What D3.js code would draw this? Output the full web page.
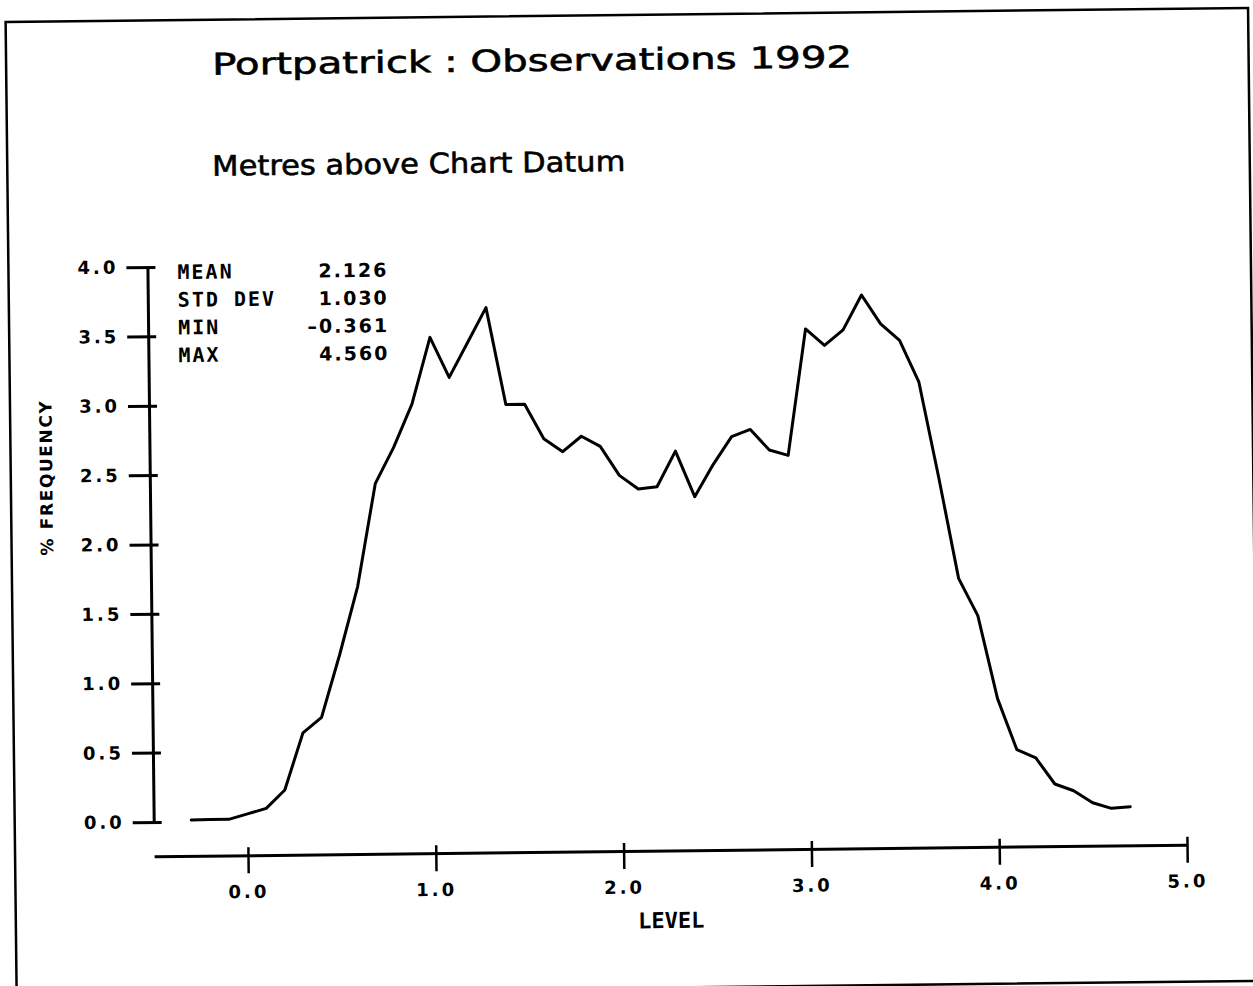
<!DOCTYPE html>
<html>
<head>
<meta charset="utf-8">
<title>Portpatrick : Observations 1992</title>
<script src="https://cdn.jsdelivr.net/npm/d3@7"></script>
<style>
  html, body { margin: 0; padding: 0; background: #fff; }
  svg { display: block; }
</style>
</head>
<body>
<svg id="chart" width="1253" height="986"></svg>
<script>
// Sea level distribution, 0.1 m bins: bin centre (m above Chart Datum) and % of observations
const levels = [
  -0.3, -0.2, -0.1, 0.0, 0.1, 0.2, 0.3, 0.4, 0.5, 0.6,
   0.7,  0.8,  0.9, 1.0, 1.1, 1.2, 1.3, 1.4, 1.5, 1.6,
   1.7,  1.8,  1.9, 2.0, 2.1, 2.2, 2.3, 2.4, 2.5, 2.6,
   2.7,  2.8,  2.9, 3.0, 3.1, 3.2, 3.3, 3.4, 3.5, 3.6,
   3.7,  3.8,  3.9, 4.0, 4.1, 4.2, 4.3, 4.4, 4.5, 4.6, 4.7
];
const frequency = [
  0.011, 0.013, 0.013, 0.051, 0.089, 0.22, 0.63, 0.74, 1.19, 1.68,
  2.42,  2.68,  2.99,  3.47,  3.18,  3.43, 3.68, 2.98, 2.98, 2.73,
  2.635, 2.745, 2.67,  2.46,  2.36,  2.375, 2.63, 2.30, 2.53, 2.73,
  2.78,  2.63,  2.59,  3.50,  3.38,  3.49, 3.74, 3.53, 3.41, 3.11,
  2.42,  1.69,  1.42,  0.82,  0.45,  0.39, 0.20, 0.15, 0.062, 0.02, 0.03
];
const xTicks = [0, 1, 2, 3, 4, 5];
const yTicks = [0, 0.5, 1, 1.5, 2, 2.5, 3, 3.5, 4];
const statLabels = ["MEAN", "STD DEV", "MIN", "MAX"];
const statValues = ["2.126", "1.030", "\u20130.361", "4.560"];

const titleText = "Portpatrick : Observations 1992";
const subtitleText = "Metres above Chart Datum";
const xTitle = "LEVEL";
const yTitle = "% FREQUENCY";

const svg = d3.select("#chart");
// whole sheet sits slightly skewed on the page
const sheet = svg.append("g").attr("transform", "rotate(-0.65 626 493)");

// sheet frame
sheet.append("rect")
  .attr("x", 11).attr("y", 15)
  .attr("width", 1242.5).attr("height", 973)
  .attr("fill", "none").attr("stroke", "#000").attr("stroke-width", 2.5);

const x = d3.scaleLinear().domain([-0.5, 5]).range([150, 1183]);
const y = d3.scaleLinear().domain([0, 4]).range([816.6, 261.6]);
const yAxisX = 150;
const xAxisY = 851;

const sansBold = sel => sel
  .attr("font-family", "'DejaVu Sans', sans-serif")
  .attr("font-weight", "bold")
  .attr("fill", "#000");
const monoBold = sel => sel
  .attr("font-family", "'DejaVu Sans Mono', monospace")
  .attr("font-weight", "bold")
  .attr("fill", "#000");

// titles (pen-plotted look: slightly thickened strokes)
sheet.append("text")
  .attr("x", 217).attr("y", 70)
  .attr("font-family", "'DejaVu Sans', sans-serif")
  .attr("font-size", 30)
  .attr("stroke", "#000").attr("stroke-width", 0.6)
  .attr("textLength", 640).attr("lengthAdjust", "spacingAndGlyphs")
  .text(titleText);

sheet.append("text")
  .attr("x", 216).attr("y", 171)
  .attr("font-family", "'DejaVu Sans', sans-serif")
  .attr("font-size", 28)
  .attr("stroke", "#000").attr("stroke-width", 0.6)
  .attr("textLength", 413).attr("lengthAdjust", "spacingAndGlyphs")
  .text(subtitleText);

// y axis
const gy = sheet.append("g")
  .attr("transform", `translate(${yAxisX},0)`)
  .call(d3.axisLeft(y).tickValues(yTicks).tickFormat(d3.format(".1f"))
    .tickSize(21).tickPadding(8).tickSizeOuter(0));
gy.select(".domain").attr("stroke", "#000").attr("stroke-width", 3);
gy.selectAll(".tick line").attr("x1", 8).attr("stroke", "#000").attr("stroke-width", 3);
gy.selectAll(".tick text").call(sansBold)
  .attr("font-size", 18).attr("letter-spacing", 3);

// x axis
const gx = sheet.append("g")
  .attr("transform", `translate(0,${xAxisY})`)
  .call(d3.axisBottom(x).tickValues(xTicks).tickFormat(d3.format(".1f"))
    .tickSize(18).tickPadding(12).tickSizeOuter(0));
gx.select(".domain").attr("stroke", "#000").attr("stroke-width", 3);
gx.selectAll(".tick line").attr("y1", -8).attr("stroke", "#000").attr("stroke-width", 2.5);
gx.selectAll(".tick text").call(sansBold)
  .attr("font-size", 18).attr("letter-spacing", 3);

// axis titles
sheet.append("text").call(monoBold)
  .attr("x", (x.range()[0] + x.range()[1]) / 2).attr("y", 928.5)
  .attr("text-anchor", "middle").attr("font-size", 22)
  .text(xTitle);

sheet.append("text").call(sansBold)
  .attr("transform", "translate(52.5,471) rotate(-90)")
  .attr("text-anchor", "middle").attr("font-size", 17).attr("letter-spacing", 1.6)
  .text(yTitle);

// summary statistics
const statY = i => 274 + i * 27.7;
sheet.append("g").call(monoBold)
  .attr("font-size", 20).attr("letter-spacing", 2)
  .selectAll("text").data(statLabels).join("text")
  .attr("x", 180).attr("y", (d, i) => statY(i))
  .text(d => d);
sheet.append("g").call(sansBold)
  .attr("font-size", 19).attr("letter-spacing", 2)
  .selectAll("text").data(statValues).join("text")
  .attr("x", 391).attr("y", (d, i) => statY(i))
  .attr("text-anchor", "end")
  .text(d => d);

// frequency curve
const line = d3.line()
  .x((d, i) => x(levels[i]))
  .y(d => y(d));
sheet.append("path")
  .datum(frequency)
  .attr("d", line)
  .attr("fill", "none")
  .attr("stroke", "#000")
  .attr("stroke-width", 3)
  .attr("stroke-linejoin", "round")
  .attr("stroke-linecap", "round");
</script>
</body>
</html>
